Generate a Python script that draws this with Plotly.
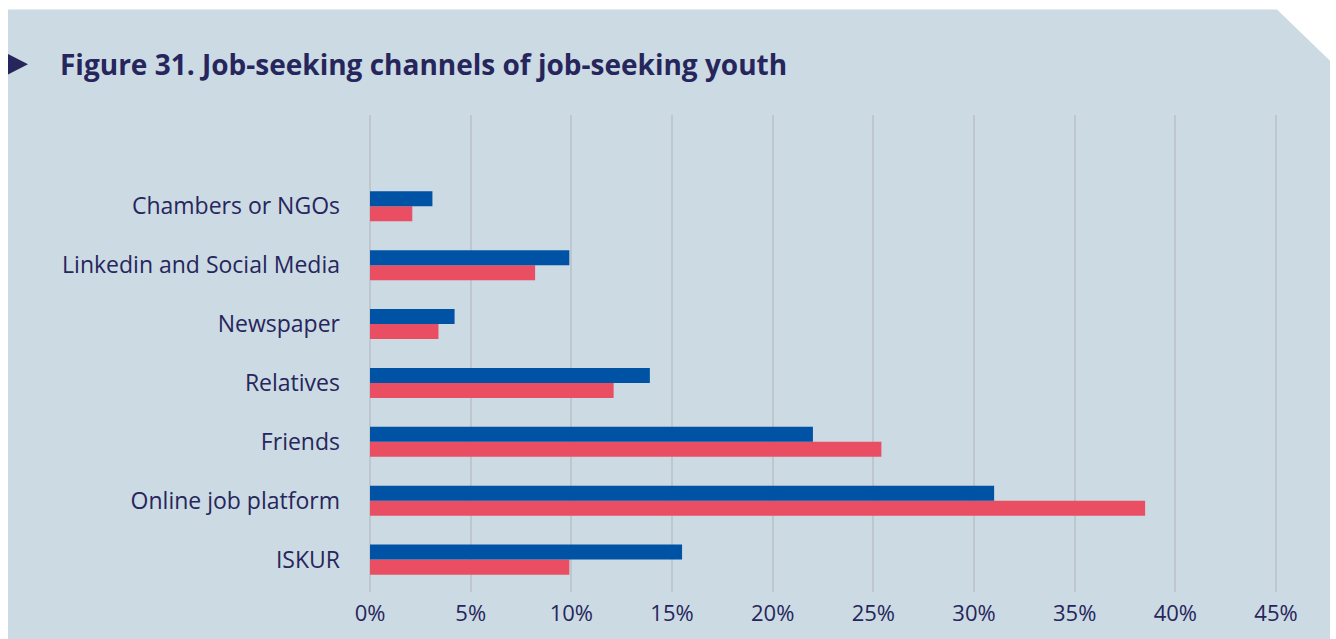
import plotly.graph_objects as go

W, H = 1336, 639
ML, MR, MT, MB = 368, 58, 115, 40

categories = ["ISKUR", "Online job platform", "Friends", "Relatives",
              "Newspaper", "Linkedin and Social Media", "Chambers or NGOs"]
series_blue = [15.5, 31.0, 22.0, 13.9, 4.2, 9.9, 3.1]
series_red = [9.9, 38.5, 25.4, 12.1, 3.4, 8.2, 2.1]
tick_vals = [0, 5, 10, 15, 20, 25, 30, 35, 40, 45]
tick_text = ["0%", "5%", "10%", "15%", "20%", "25%", "30%", "35%", "40%", "45%"]
title_text = "Figure 31. Job-seeking channels of job-seeking youth"

BLUE = "#0052A5"
RED = "#E94E63"
NAVY = "#26265C"
BG = "#CCDAE3"

fig = go.Figure()
fig.add_trace(go.Bar(y=categories, x=series_red, orientation="h", name="Series 2",
                     marker=dict(color=RED, line=dict(width=0))))
fig.add_trace(go.Bar(y=categories, x=series_blue, orientation="h", name="Series 1",
                     marker=dict(color=BLUE, line=dict(width=0))))

pw = W - ML - MR
ph = H - MT - MB


def px(x):
    return (x - ML) / pw


def py(y):
    return 1 - (y - MT) / ph


pts = [(8, 8), (1277, 8), (1330, 60), (1330, 660), (8, 660)]
path = "M " + " L ".join(f"{px(x):.5f},{py(y):.5f}" for x, y in pts) + " Z"
tri = [(8, 53), (28, 63.5), (8, 74)]
tri_path = "M " + " L ".join(f"{px(x):.5f},{py(y):.5f}" for x, y in tri) + " Z"

fig.update_layout(
    width=W, height=H,
    margin=dict(l=ML, r=MR, t=MT, b=MB),
    paper_bgcolor="white",
    plot_bgcolor="rgba(0,0,0,0)",
    barmode="group",
    bargap=0.49,
    bargroupgap=0,
    showlegend=False,
    font=dict(family="Open Sans", color=NAVY, size=22),
    shapes=[
        dict(type="path", path=path, xref="paper", yref="paper",
             fillcolor=BG, line=dict(width=0), layer="below"),
        dict(type="path", path=tri_path, xref="paper", yref="paper",
             fillcolor=NAVY, line=dict(width=0), layer="below"),
    ],
    annotations=[
        dict(text=title_text, xref="paper", yref="paper",
             x=px(58), y=py(63), xanchor="left", yanchor="middle",
             showarrow=False,
             font=dict(family="Open Sans", size=28, color=NAVY, weight="bold")),
    ],
    xaxis=dict(range=[-0.1, 45.1], tickvals=tick_vals, ticktext=tick_text,
               showgrid=True, gridcolor="#BEC6CE", gridwidth=2,
               zeroline=False, showline=False, ticks="",
               tickfont=dict(size=22, color=NAVY), ticklabelstandoff=6,
               fixedrange=True),
    yaxis=dict(range=[-0.55, 7.55], showgrid=False, zeroline=False,
               showline=False, ticks="", ticklabelstandoff=27,
               tickfont=dict(size=23, color=NAVY), fixedrange=True),
)

fig.write_html("out.html")
